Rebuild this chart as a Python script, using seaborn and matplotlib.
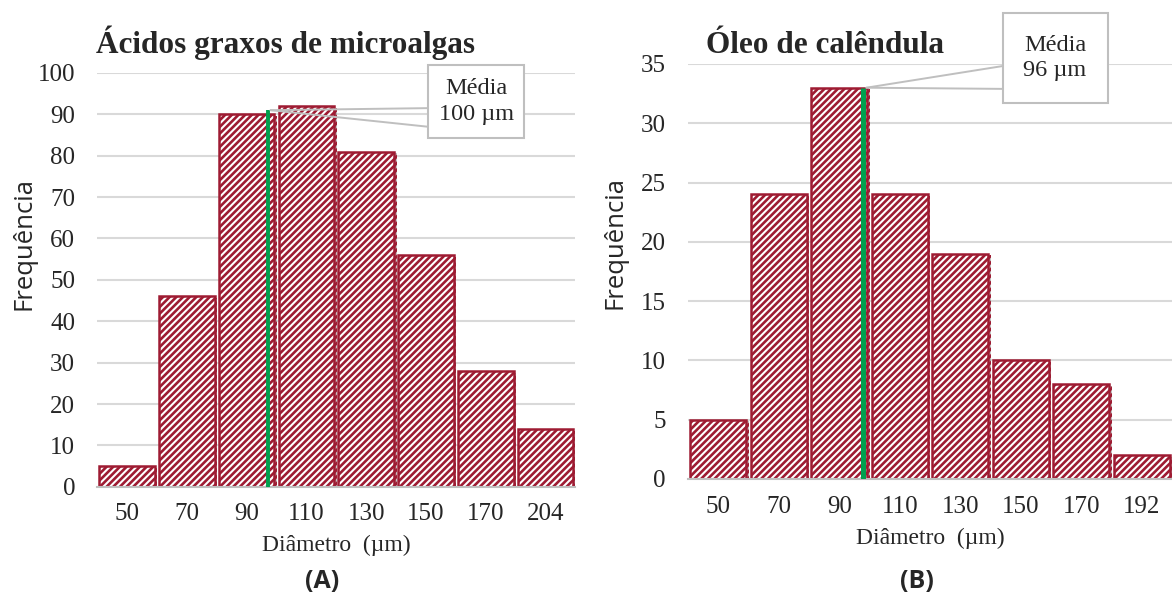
import matplotlib
matplotlib.use('Agg')
import matplotlib.pyplot as plt
import matplotlib.patheffects as pe
from matplotlib.patches import Rectangle
import seaborn as sns
import pandas as pd

# data
bins_a = ['50', '70', '90', '110', '130', '150', '170', '204']
freq_a = [5, 46, 90, 92, 81, 56, 28, 14]
mean_a_label = 100
mean_a_pos = 97      # where the green line sits on the diameter scale
mean_a_top = 91

bins_b = ['50', '70', '90', '110', '130', '150', '170', '192']
freq_b = [5, 24, 33, 24, 19, 10, 8, 2]
mean_b_label = 96
mean_b_pos = 98
mean_b_top = 33

sns.set_style('white')
plt.rcParams['font.family'] = ['Liberation Serif', 'DejaVu Serif']
plt.rcParams['hatch.linewidth'] = 1.9

red = '#9E1B32'
grid = '#D9D9D9'
green = '#00A04F'
txt = '#262626'

fig = plt.figure(figsize=(11.72, 5.98), dpi=100)
ax_a = fig.add_axes([0.083, 0.186, 0.408, 0.692])
ax_b = fig.add_axes([0.587, 0.199, 0.413, 0.694])


def draw_panel(ax, bins, freq, ymax, ystep, mean_pos, mean_top, mean_lw, mean_label,
               box, leads, ylab_xy):
    df = pd.DataFrame({'bin': bins, 'freq': freq})
    sns.barplot(data=df, x='bin', y='freq', ax=ax, width=0.93, color='white',
                edgecolor=red, linewidth=1.8, hatch='/////', saturation=1, zorder=3)
    for p in ax.patches:
        p.set_path_effects([pe.SimplePatchShadow(offset=(1.8, -1.2), shadow_rgbFace='#8c8c8c', alpha=0.5),
                            pe.Normal()])
    ax.set_ylim(0, ymax)
    ax.set_xlim(-0.5, len(bins) - 0.5)
    ax.set_yticks(range(0, ymax + 1, ystep))
    ax.yaxis.grid(True, color=grid, linewidth=1.5, zorder=0)
    ax.set_axisbelow(True)
    for s in ['top', 'right', 'left']:
        ax.spines[s].set_visible(False)
    ax.spines['bottom'].set_color('#BFBFBF')
    ax.spines['bottom'].set_linewidth(1.5)
    ax.spines['bottom'].set_zorder(4)
    ax.set_xticks(range(len(bins)))
    ax.set_xticks([i - 0.5 for i in range(len(bins) + 1)], minor=True)
    ax.tick_params(axis='x', which='both', length=5, color='#BFBFBF', width=1.3,
                   labelsize=18, labelcolor=txt, pad=7)
    ax.tick_params(axis='y', length=0, labelsize=18, labelcolor=txt, pad=16)
    ax.set_xlabel('Diâmetro  (µm)', fontsize=17, color=txt, labelpad=7)
    ax.set_ylabel('Frequência', fontsize=18.5, color=txt, family=['Open Sans'])
    ax.yaxis.set_label_coords(*ylab_xy)

    # mean line, diameter -> category position (bins 20 wide from 50)
    xm = (mean_pos - 50) / 20
    ax.vlines(xm, 0, mean_top, color=green, linewidth=mean_lw, zorder=5)

    # callout: box, text and wedge leader
    x0, y0, x1, y1 = box
    ax.add_patch(Rectangle((x0, y0), x1 - x0, y1 - y0, transform=ax.transAxes, fc='white',
                           ec='#BFBFBF', lw=1.5, zorder=7, clip_on=False))
    ax.text((x0 + x1) / 2, (y0 + y1) / 2, 'Média\n%d µm' % mean_label, transform=ax.transAxes,
            ha='center', va='center', fontsize=17.5, color=txt, linespacing=1.3, zorder=8)
    for ly in leads:
        ax.annotate('', xy=(xm + 0.05, mean_top), xytext=(x0, ly), textcoords='axes fraction',
                    arrowprops=dict(arrowstyle='-', color='#BFBFBF', lw=1.4,
                                    shrinkA=0, shrinkB=0), zorder=6, annotation_clip=False)


draw_panel(ax_a, bins_a, freq_a, 100, 10, mean_a_pos, mean_a_top, 2.8, mean_a_label,
           (0.692, 0.843, 0.893, 1.019), [0.915, 0.870], (-0.128, 0.589))
draw_panel(ax_b, bins_b, freq_b, 35, 5, mean_b_pos, mean_b_top, 3.6, mean_b_label,
           (0.65, 0.906, 0.867, 1.123), [0.995, 0.94], (-0.124, 0.571))

fig.text(0.082, 0.911, 'Ácidos graxos de microalgas', fontsize=22.5, fontweight='bold',
         color=txt, va='baseline')
fig.text(0.602, 0.911, 'Óleo de calêndula', fontsize=22.5, fontweight='bold',
         color=txt, va='baseline')

fig.text(0.275, 0.027, '(A)', ha='center', va='center', fontsize=18, fontweight='bold',
         family=['Open Sans'], color=txt)
fig.text(0.782, 0.027, '(B)', ha='center', va='center', fontsize=18, fontweight='bold',
         family=['Open Sans'], color=txt)

fig.savefig('out.png', dpi=100)
